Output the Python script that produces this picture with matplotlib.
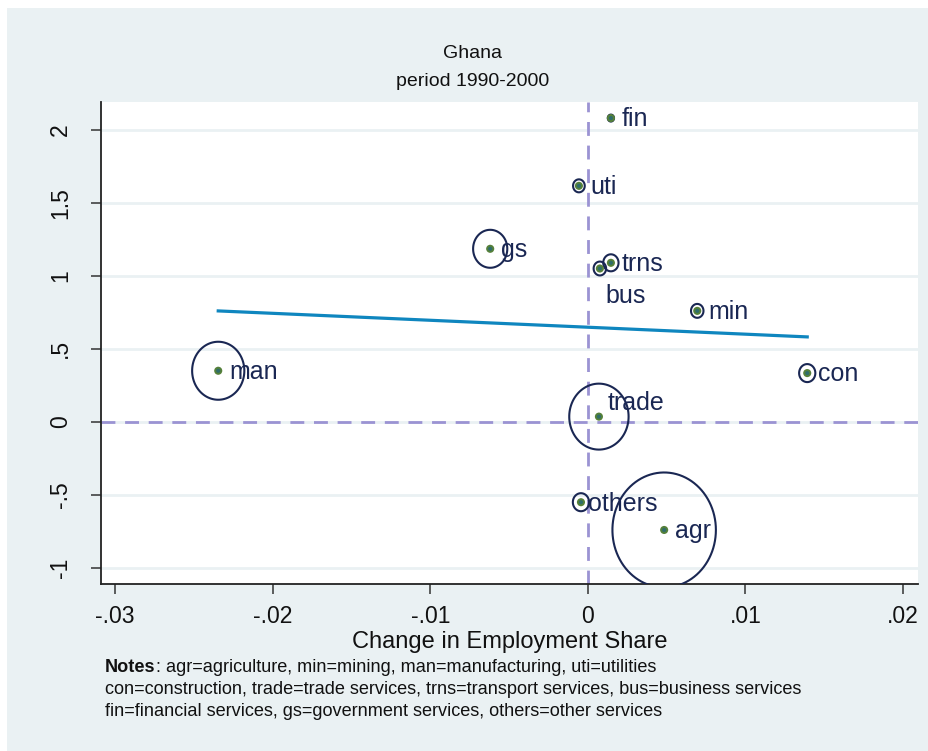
import numpy as np
import matplotlib
matplotlib.use("Agg")
import matplotlib.pyplot as plt
from matplotlib.path import Path
from matplotlib.patches import Rectangle

# sectors: change in employment share vs. relative productivity
sectors = ["agr", "min", "man", "uti", "con", "trade", "trns", "bus", "fin", "gs", "others"]
emp_change = [0.00484, 0.00694, -0.02346, -0.00057, 0.01392, 0.00070, 0.00146, 0.00076, 0.00146, -0.00620, -0.00044]
productivity = [-0.74, 0.76, 0.35, 1.616, 0.334, 0.036, 1.089, 1.05, 2.08, 1.185, -0.55]
emp_share = [55.0, 0.8, 14.0, 0.7, 1.35, 18.1, 1.2, 0.8, 0.2, 6.0, 1.35]

# fitted line (weighted), drawn over the range of the data
fit_intercept = 0.648
fit_slope = -4.76

xticks = [-0.03, -0.02, -0.01, 0, 0.01, 0.02]
xticklabels = ["-.03", "-.02", "-.01", "0", ".01", ".02"]
yticks = [-1, -0.5, 0, 0.5, 1, 1.5, 2]
yticklabels = ["-1", "-.5", "0", ".5", "1", "1.5", "2"]

# label placement (offset in points)
label_offsets = {s: (8, -1) for s in sectors}
label_offsets["trade"] = (6.5, 10)
label_offsets["bus"] = (4, -19.5)
label_offsets["others"] = (5, -1)

plt.rcParams["font.family"] = ["Liberation Sans", "DejaVu Sans"]

BG = "#eaf1f3"
NAVY = "#1a2753"
DASH = "#9b93d3"
INK = "#111111"

fig = plt.figure(figsize=(9.29, 7.51), dpi=100)
fig.patch.set_facecolor("white")
fig.patches.append(Rectangle((7 / 929, 0.0), 1.0, 743 / 751, transform=fig.transFigure,
                             facecolor=BG, edgecolor="none", zorder=-10))

ax = fig.add_axes([101 / 929, 167 / 751, 817 / 929, 482 / 751])
ax.set_facecolor("white")
ax.set_xlim(-0.0309, 0.02095)
ax.set_ylim(-1.11, 2.19)

for side in ["top", "right"]:
    ax.spines[side].set_visible(False)
for side in ["left", "bottom"]:
    ax.spines[side].set_linewidth(1.3)
    ax.spines[side].set_color("#222222")

ax.set_xticks(xticks)
ax.set_xticklabels(xticklabels)
ax.set_yticks(yticks)
ax.set_yticklabels(yticklabels, rotation=90, va="center")
ax.tick_params(axis="both", length=7, width=1.1, color="#333333", labelsize=16.5, labelcolor=INK)
ax.tick_params(axis="x", pad=8)
ax.tick_params(axis="y", pad=14)
ax.yaxis.grid(True, color=BG, linewidth=2, zorder=0)
ax.set_axisbelow(True)

# reference lines at zero
ax.axvline(0, color=DASH, linewidth=2, dashes=(5, 3.5), zorder=1)
ax.axhline(0, color=DASH, linewidth=2, dashes=(5, 3.5), zorder=1)

# fitted line
xs = np.array([min(emp_change), max(emp_change)])
ax.plot(xs, fit_intercept + fit_slope * xs, color="#0f86bf", linewidth=2.3, zorder=2)

# slightly oval circle marker
t = np.linspace(0, 2 * np.pi, 100)
oval = Path(np.column_stack([0.9 * np.cos(t), np.sin(t)]), closed=True)

radius_px = 7.75 * np.sqrt(np.array(emp_share))
sizes = (2 * radius_px * 0.72) ** 2
ax.scatter(emp_change, productivity, s=sizes, marker=oval, facecolors="none",
           edgecolors=NAVY, linewidths=1.5, zorder=3)
ax.scatter(emp_change, productivity, s=34, color="#55803a", edgecolors="none", zorder=4)
ax.scatter(emp_change, productivity, s=9, color="#2f6d6a", edgecolors="none", zorder=5)

for s, x, y in zip(sectors, emp_change, productivity):
    ax.annotate(s, (x, y), xytext=label_offsets[s], textcoords="offset points",
                ha="left", va="center", fontsize=18, color=NAVY, zorder=6)

ax.set_xlabel("Change in Employment Share", fontsize=17, color=INK, va="center")
ax.xaxis.set_label_coords(0.5, -(642 - 584) / 482)

fig.text(473 / 929, 1 - 53 / 751, "Ghana", ha="center", va="center", fontsize=14, color=INK)
fig.text(473 / 929, 1 - 81 / 751, "period 1990-2000", ha="center", va="center", fontsize=14, color=INK)

notes = [
    ": agr=agriculture, min=mining, man=manufacturing, uti=utilities",
    "con=construction, trade=trade services, trns=transport services, bus=business services",
    "fin=financial services, gs=government services, others=other services",
]
nfs = 13.1
head = fig.text(105 / 929, 1 - 668 / 751, "Notes", ha="left", va="center", fontsize=nfs,
                weight="bold", color=INK)
ax.annotate(notes[0], xy=(1, 0), xycoords=head, ha="left", va="bottom", fontsize=nfs,
            color=INK, annotation_clip=False)
fig.text(105 / 929, 1 - 690 / 751, notes[1], ha="left", va="center", fontsize=nfs, color=INK)
fig.text(105 / 929, 1 - 712 / 751, notes[2], ha="left", va="center", fontsize=nfs, color=INK)

fig.savefig("out.png", dpi=100, facecolor=fig.get_facecolor())
